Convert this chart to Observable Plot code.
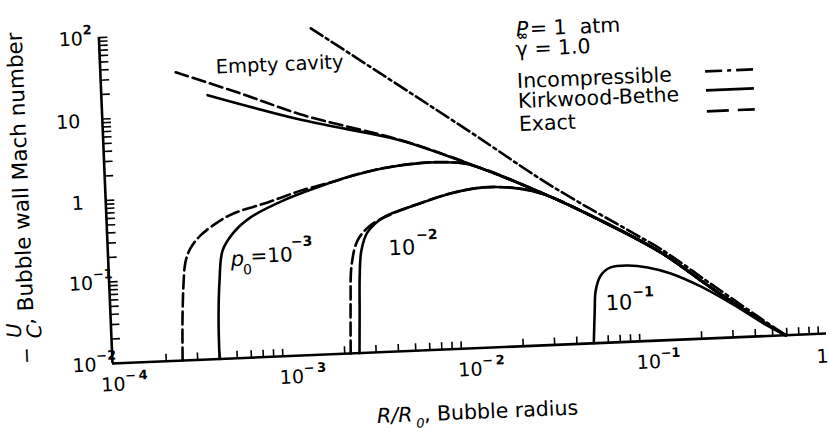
<!DOCTYPE html>
<html>
<head>
<meta charset="utf-8">
<script src="https://cdn.jsdelivr.net/npm/d3@7"></script>
<script src="https://cdn.jsdelivr.net/npm/@observablehq/plot@0.6"></script>
<style>
  html, body { margin: 0; padding: 0; background: #fff; overflow: hidden; }
  #chart { width: 829px; height: 439px; }
  /* the printed figure sits slightly askew on the page */
  #chart svg { overflow: visible; transform: rotate(-2.4deg); transform-origin: 112px 363px; }
</style>
</head>
<body>
<div id="chart"></div>
<script>
// Bubble collapse: wall Mach number -U/c against radius R/R0 (P∞ = 1 atm, γ = 1.0)

// Incompressible (Rayleigh) solution for the empty cavity
const incompR = [0.00154, 0.0110, 0.0310, 0.0881, 0.124, 0.231, 0.432, 0.592];
const incompM = [101, 4.72, 0.906, 0.212, 0.132, 0.0468, 0.0166, 0.01];

// Empty cavity, Kirkwood-Bethe and exact
const emptyKbR = [0.000393, 0.00133, 0.00460, 0.0108, 0.0272, 0.0581, 0.124, 0.231, 0.432, 0.592];
const emptyKbM = [17.3, 7.60, 3.85, 1.86, 0.752, 0.318, 0.120, 0.0422, 0.0156, 0.01];
const emptyExR = [0.000264, 0.000601, 0.00134, 0.00460, 0.0108, 0.0272, 0.0581, 0.124, 0.231, 0.432, 0.592];
const emptyExM = [34.3, 17.5, 8.75, 3.89, 1.87, 0.755, 0.318, 0.120, 0.0422, 0.0156, 0.01];

// Initial gas pressure p0 = 1e-3
const p3KbR = [0.000398, 0.000401, 0.000415, 0.000439, 0.000511, 0.000640, 0.000989, 0.00154, 0.00237, 0.00365, 0.00566, 0.00762, 0.0108, 0.0272, 0.0581, 0.124, 0.231, 0.432, 0.592];
const p3KbM = [0.01, 0.0296, 0.0918, 0.213, 0.350, 0.524, 0.813, 1.13, 1.48, 1.79, 1.97, 1.98, 1.81, 0.748, 0.316, 0.119, 0.0420, 0.0156, 0.01];
const p3ExR = [0.000247, 0.000252, 0.000260, 0.000270, 0.000290, 0.000333, 0.000417, 0.000515, 0.000804, 0.00124, 0.00200, 0.00237, 0.00365, 0.00566, 0.00762, 0.0108, 0.0272, 0.0581, 0.124, 0.231, 0.432, 0.592];
const p3ExM = [0.01, 0.0310, 0.0832, 0.159, 0.234, 0.334, 0.473, 0.597, 0.783, 1.05, 1.34, 1.49, 1.80, 1.98, 1.99, 1.82, 0.750, 0.317, 0.120, 0.0421, 0.0156, 0.01];

// p0 = 1e-2
const p2KbR = [0.00242, 0.00248, 0.00253, 0.00262, 0.00286, 0.00355, 0.00553, 0.00853, 0.0131, 0.0203, 0.0283, 0.0581, 0.124, 0.231, 0.432, 0.592];
const p2KbM = [0.01, 0.0333, 0.0895, 0.181, 0.299, 0.447, 0.621, 0.813, 0.927, 0.865, 0.710, 0.315, 0.119, 0.0419, 0.0155, 0.01];
const p2ExR = [0.00216, 0.00222, 0.00229, 0.00251, 0.00299, 0.00389, 0.00553, 0.00853, 0.0131, 0.0203, 0.0283, 0.0581, 0.124, 0.231, 0.432, 0.592];
const p2ExM = [0.01, 0.0447, 0.120, 0.241, 0.363, 0.482, 0.623, 0.815, 0.929, 0.867, 0.712, 0.316, 0.119, 0.0419, 0.0155, 0.01];

// p0 = 1e-1 (Kirkwood-Bethe)
const p1KbR = [0.0497, 0.0512, 0.0524, 0.0564, 0.0643, 0.0802, 0.1035, 0.139, 0.203, 0.308, 0.472, 0.592];
const p1KbM = [0.01, 0.0252, 0.0443, 0.0673, 0.0834, 0.0863, 0.0798, 0.0656, 0.0439, 0.0251, 0.0133, 0.01];

// Axis ticks and labels
const xDecades = [1e-4, 1e-3, 1e-2, 1e-1];
const xBase = ["10", "10", "10", "10"];
const xExp = ["\u2212\u20094", "\u2212\u20093", "\u2212\u20092", "\u22121"];
const xEnd = [1];
const xEndLabel = ["1"];
const yPowers = [1e-2, 1e-1, 100];
const yPowerExp = ["\u22122", "\u22121", "2"];
const yPlain = [1, 10];
const yPlainLabel = ["1", "10"];
const minorSteps = [2, 3, 4, 5, 6, 7, 8, 9];

// Legend
const legendLabels = ["Incompressible", "Kirkwood-Bethe", "Exact"];
const legendMach = [18.8, 11.0, 6.08];
const legendSpan = [0.243, 0.451];

function series(name, R, M) { return R.map((r, i) => ({curve: name, r, m: M[i]})); }

const solid = [
  ...series("empty", emptyKbR, emptyKbM),
  ...series("1e-3", p3KbR, p3KbM),
  ...series("1e-2", p2KbR, p2KbM),
  ...series("1e-1", p1KbR, p1KbM)
];
const dashed = [
  ...series("empty", emptyExR, emptyExM),
  ...series("1e-3", p3ExR, p3ExM),
  ...series("1e-2", p2ExR, p2ExM)
];
const dashdot = series("incompressible", incompR, incompM);

const yDecades = [1e-2, 1e-1, 1, 10];
const xMinor = xDecades.flatMap(d => minorSteps.map(k => d * k));
const yTicks = yDecades.flatMap(d => [1, ...minorSteps].map(k => d * k)).concat([100]);

const W = 829, H = 439, ML = 112, MR = 2.4, MT = 36.8, MB = 76;
const frameW = W - ML - MR, frameH = H - MT - MB;

const font = "DejaVu Sans, sans-serif";
const lineW = 2.6;
const legendText = {frameAnchor: "top-left", dx: 416, textAnchor: "start", fontSize: 20.5};

const chart = Plot.plot({
  width: W,
  height: H,
  marginLeft: ML,
  marginRight: MR,
  marginTop: MT,
  marginBottom: MB,
  x: {type: "log", domain: [1e-4, 1], axis: null},
  y: {type: "log", domain: [1e-2, 1e2], axis: null},
  style: {fontFamily: font, color: "black", background: "white", overflow: "visible"},
  marks: [
    // axes
    Plot.ruleX([1e-4], {stroke: "black", strokeWidth: 2.6}),
    Plot.ruleY([1e-2], {stroke: "black", strokeWidth: 2.6}),
    Plot.tickX(xMinor, {x: d => d, insetTop: frameH - 7, stroke: "black", strokeWidth: 1.6}),
    Plot.tickY(yTicks, {y: d => d, insetRight: frameW - 9, stroke: "black", strokeWidth: 1.6}),

    // tick labels
    Plot.text(xDecades, {x: d => d, text: (d, i) => xBase[i], frameAnchor: "bottom", dy: 27.5, fontSize: 19}),
    Plot.text(xDecades, {x: d => d, text: (d, i) => xExp[i], frameAnchor: "bottom", dx: 12, dy: 17, textAnchor: "start", fontSize: 13, fontWeight: "bold"}),
    Plot.text(xEnd, {x: d => d, text: (d, i) => xEndLabel[i], frameAnchor: "bottom", dx: -5, dy: 29, fontSize: 19}),
    Plot.text(yPowers, {y: d => d, text: () => "10", frameAnchor: "left", dx: -16, dy: 1, textAnchor: "end", fontSize: 19}),
    Plot.text(yPowers, {y: d => d, text: (d, i) => yPowerExp[i], frameAnchor: "left", dx: -16, dy: -8, textAnchor: "start", fontSize: 13, fontWeight: "bold"}),
    Plot.text(yPlain, {y: d => d, text: (d, i) => yPlainLabel[i], frameAnchor: "left", dx: -22, dy: 2, textAnchor: "end", fontSize: 19}),

    // axis titles
    Plot.text(["R/R"], {frameAnchor: "bottom-left", dx: 262, dy: 70.5, textAnchor: "start", fontSize: 20.5, fontStyle: "italic"}),
    Plot.text(["0"], {frameAnchor: "bottom-left", dx: 301, dy: 77, textAnchor: "start", fontSize: 13, fontStyle: "italic"}),
    Plot.text([", Bubble radius"], {frameAnchor: "bottom-left", dx: 309, dy: 70.5, textAnchor: "start", fontSize: 20.5}),
    Plot.text(["\u2212"], {frameAnchor: "bottom-left", dx: -79, dy: -3, rotate: -90, fontSize: 20}),
    Plot.text(["U"], {frameAnchor: "bottom-left", dx: -90, dy: -29.5, rotate: -90, fontSize: 20, fontStyle: "italic"}),
    Plot.text(["C"], {frameAnchor: "bottom-left", dx: -70, dy: -28.5, rotate: -90, fontSize: 20, fontStyle: "italic"}),
    Plot.text([", Bubble wall Mach number"], {frameAnchor: "bottom-left", dx: -77, dy: -42, rotate: -90, textAnchor: "start", fontSize: 21.5}),

    // curves
    Plot.line(dashdot, {x: "r", y: "m", z: "curve", stroke: "black", strokeWidth: lineW, strokeDasharray: "14,4,3,4", curve: "catmull-rom"}),
    Plot.line(dashed, {x: "r", y: "m", z: "curve", stroke: "black", strokeWidth: lineW, strokeDasharray: "13,5", curve: "catmull-rom"}),
    Plot.line(solid, {x: "r", y: "m", z: "curve", stroke: "black", strokeWidth: lineW, curve: "catmull-rom"}),

    // curve labels
    Plot.text(["Empty cavity"], {x: [4.43e-4], y: [37.6], textAnchor: "start", fontSize: 19.5}),
    Plot.text(["p"], {x: [4.84e-4], y: [0.173], textAnchor: "start", fontSize: 21, fontStyle: "italic", dy: 2}),
    Plot.text(["0"], {x: [4.84e-4], y: [0.173], textAnchor: "start", dx: 12, dy: 13, fontSize: 14}),
    Plot.text(["=10"], {x: [4.84e-4], y: [0.173], textAnchor: "start", dx: 20, fontSize: 20}),
    Plot.text(["\u22123"], {x: [4.84e-4], y: [0.173], textAnchor: "start", dx: 61, dy: -13, fontSize: 14, fontWeight: "bold"}),
    Plot.text(["10"], {x: [3.72e-3], y: [0.185], textAnchor: "start", fontSize: 21}),
    Plot.text(["\u22122"], {x: [3.72e-3], y: [0.185], textAnchor: "start", dx: 28, dy: -12, fontSize: 14, fontWeight: "bold"}),
    Plot.text(["10"], {x: [0.0592], y: [0.0303], textAnchor: "start", fontSize: 21}),
    Plot.text(["\u22121"], {x: [0.0592], y: [0.0303], textAnchor: "start", dx: 27, dy: -10, fontSize: 14, fontWeight: "bold"}),

    // conditions and legend
    Plot.text(["P"], {frameAnchor: "top-left", dx: 417, dy: 1.5, textAnchor: "start", fontSize: 20.5, fontStyle: "italic"}),
    Plot.text(["\u221e"], {frameAnchor: "top-left", dx: 418, dy: 11, textAnchor: "start", fontSize: 13, fontWeight: "bold"}),
    Plot.text(["= 1  atm"], {frameAnchor: "top-left", dx: 431, dy: 1.5, textAnchor: "start", fontSize: 20.5}),
    Plot.text(["\u03b3 = 1.0"], {frameAnchor: "top-left", dx: 416, dy: 21.5, textAnchor: "start", fontSize: 20.5}),
    Plot.text([legendLabels[0]], {...legendText, dy: 53.4}),
    Plot.text([legendLabels[1]], {...legendText, dy: 73.4}),
    Plot.text([legendLabels[2]], {...legendText, dy: 96.4}),
    Plot.ruleY([legendMach[0]], {x1: legendSpan[0], x2: legendSpan[1], stroke: "black", strokeWidth: lineW, strokeDasharray: "17,5,4,5"}),
    Plot.ruleY([legendMach[1]], {x1: legendSpan[0], x2: legendSpan[1], stroke: "black", strokeWidth: lineW}),
    Plot.ruleY([legendMach[2]], {x1: legendSpan[0], x2: legendSpan[1], stroke: "black", strokeWidth: lineW, strokeDasharray: "22,9"})
  ]
});

document.getElementById("chart").appendChild(chart);
</script>
</body>
</html>
